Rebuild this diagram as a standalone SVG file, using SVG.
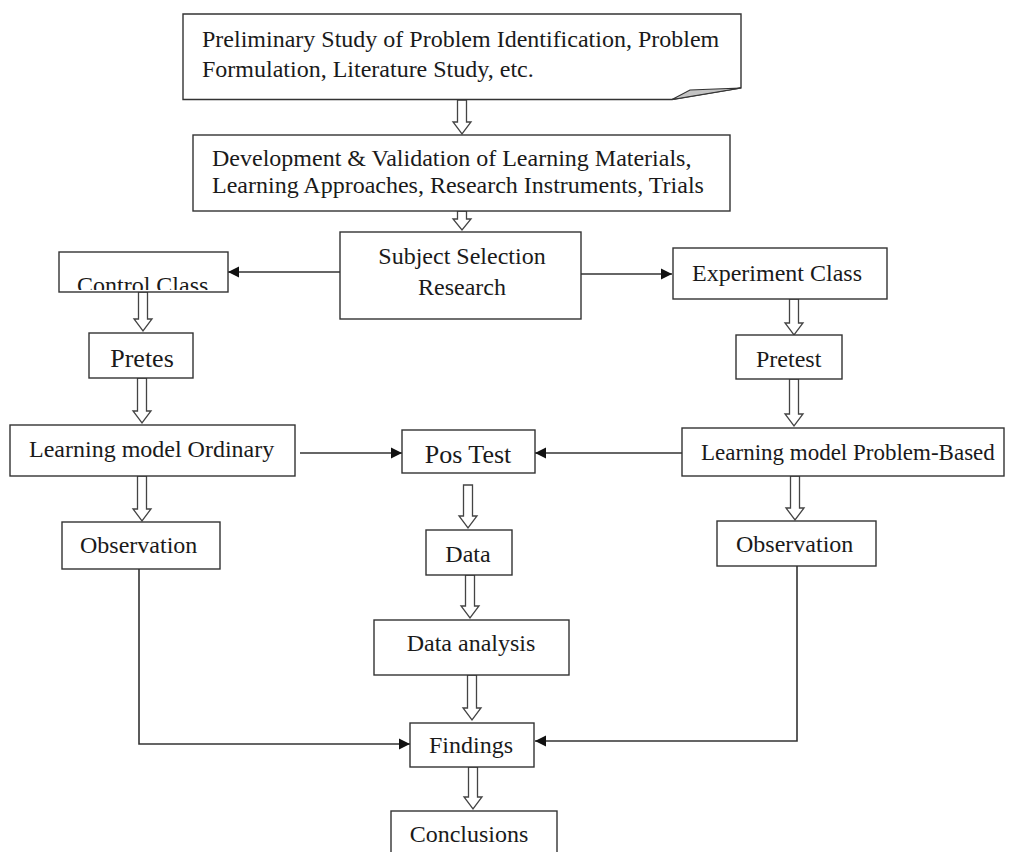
<svg xmlns="http://www.w3.org/2000/svg" width="1018" height="852" viewBox="0 0 1018 852">
<style>
.box{fill:#fff;stroke:#333;stroke-width:1.4}
.t{font-family:"Liberation Serif","Times New Roman",serif;font-size:24px;fill:#1a1a1a}
.c{text-anchor:middle}
.ha{fill:#fff;stroke:#444;stroke-width:1.3;stroke-linejoin:miter}
.ln{fill:none;stroke:#333;stroke-width:1.6}
</style>
<defs>
<marker id="ah" markerUnits="userSpaceOnUse" markerWidth="12" markerHeight="12" refX="11" refY="6" orient="auto">
<path d="M0,0.5 L11,6 L0,11.5 Z" fill="#111"/>
</marker>
<clipPath id="ccclip"><rect x="59" y="252" width="169" height="38"/></clipPath>
</defs>
<rect width="1018" height="852" fill="#fff"/>

<g id="connectors">
<polygon class="ha" points="457.5,100 466.5,100 466.5,122 471,122 462,134 453,122 457.5,122"/>
<polygon class="ha" points="457.5,211 466.5,211 466.5,219 471,219 462,230 453,219 457.5,219"/>
<polygon class="ha" points="138.5,292 147.5,292 147.5,319 152,319 143,331 134,319 138.5,319"/>
<polygon class="ha" points="137.5,378 146.5,378 146.5,411 151,411 142,423 133,411 137.5,411"/>
<polygon class="ha" points="137.5,476 146.5,476 146.5,509 151,509 142,521 133,509 137.5,509"/>
<polygon class="ha" points="789.5,299 798.5,299 798.5,323 803,323 794,335 785,323 789.5,323"/>
<polygon class="ha" points="789.5,379 798.5,379 798.5,414 803,414 794,426 785,414 789.5,414"/>
<polygon class="ha" points="790.5,476 799.5,476 799.5,508 804,508 795,520 786,508 790.5,508"/>
<polygon class="ha" points="463.5,485 472.5,485 472.5,516 477,516 468,528 459,516 463.5,516"/>
<polygon class="ha" points="465.5,575 474.5,575 474.5,606 479,606 470,618 461,606 465.5,606"/>
<polygon class="ha" points="467.5,675 476.5,675 476.5,708 481,708 472,720 463,708 467.5,708"/>
<polygon class="ha" points="468.5,767 477.5,767 477.5,797 482,797 473,809 464,797 468.5,797"/>
<path class="ln" d="M340,272 H228" marker-end="url(#ah)"/>
<path class="ln" d="M581,274 H672" marker-end="url(#ah)"/>
<path class="ln" d="M300,453 H402" marker-end="url(#ah)"/>
<path class="ln" d="M682,453 H535" marker-end="url(#ah)"/>
<path class="ln" d="M139,569 V744 H410" marker-end="url(#ah)"/>
<path class="ln" d="M797,566 V741 H535" marker-end="url(#ah)"/>
</g>

<g id="n-preliminary">
<path class="box" d="M183,14 H741 V88 L672,99.5 H183 Z"/>
<path d="M672,99.5 L690,90 L741,88 Z" fill="#c4c4c4" stroke="#333" stroke-width="1.2"/>
<text class="t" x="202" y="47">Preliminary Study of Problem Identification, Problem</text>
<text class="t" x="202" y="77">Formulation, Literature Study, etc.</text>
</g>

<g id="n-development">
<rect class="box" x="193" y="135" width="537" height="76"/>
<text class="t" x="212" y="166">Development &amp; Validation of Learning Materials,</text>
<text class="t" x="212" y="193">Learning Approaches, Research Instruments, Trials</text>
</g>

<g id="n-subject">
<rect class="box" x="340" y="232" width="241" height="87"/>
<text class="t c" x="462" y="264">Subject Selection</text>
<text class="t c" x="462" y="295">Research</text>
</g>

<g id="n-control">
<rect class="box" x="59" y="252" width="169" height="40"/>
<text class="t" x="77" y="293" clip-path="url(#ccclip)">Control Class</text>
</g>

<g id="n-experiment">
<rect class="box" x="673" y="248" width="214" height="51"/>
<text class="t" x="692" y="281">Experiment Class</text>
</g>

<g id="n-pretes">
<rect class="box" x="89" y="333" width="104" height="45"/>
<text class="t c" x="142" y="367" style="font-size:26px">Pretes</text>
</g>

<g id="n-pretest">
<rect class="box" x="736" y="335" width="106" height="44"/>
<text class="t" x="756" y="367">Pretest</text>
</g>

<g id="n-ordinary">
<rect class="box" x="10" y="425" width="285" height="51"/>
<text class="t" x="29" y="457">Learning model Ordinary</text>
</g>

<g id="n-postest">
<rect class="box" x="402" y="430" width="133" height="43"/>
<text class="t c" x="468" y="463" style="font-size:26px">Pos Test</text>
</g>

<g id="n-problem">
<rect class="box" x="682" y="428" width="322" height="48"/>
<text class="t" x="701" y="460" style="font-size:23px">Learning model Problem-Based</text>
</g>

<g id="n-obs-left">
<rect class="box" x="62" y="522" width="158" height="47"/>
<text class="t" x="80" y="553">Observation</text>
</g>

<g id="n-data">
<rect class="box" x="426" y="530" width="86" height="45"/>
<text class="t c" x="468" y="562">Data</text>
</g>

<g id="n-obs-right">
<rect class="box" x="717" y="521" width="159" height="45"/>
<text class="t" x="736" y="552">Observation</text>
</g>

<g id="n-analysis">
<rect class="box" x="374" y="620" width="195" height="55"/>
<text class="t c" x="471" y="651">Data analysis</text>
</g>

<g id="n-findings">
<rect class="box" x="410" y="723" width="124" height="44"/>
<text class="t c" x="471" y="753">Findings</text>
</g>

<g id="n-conclusions">
<rect class="box" x="391" y="811" width="166" height="60"/>
<text class="t c" x="469" y="842">Conclusions</text>
</g>
</svg>
